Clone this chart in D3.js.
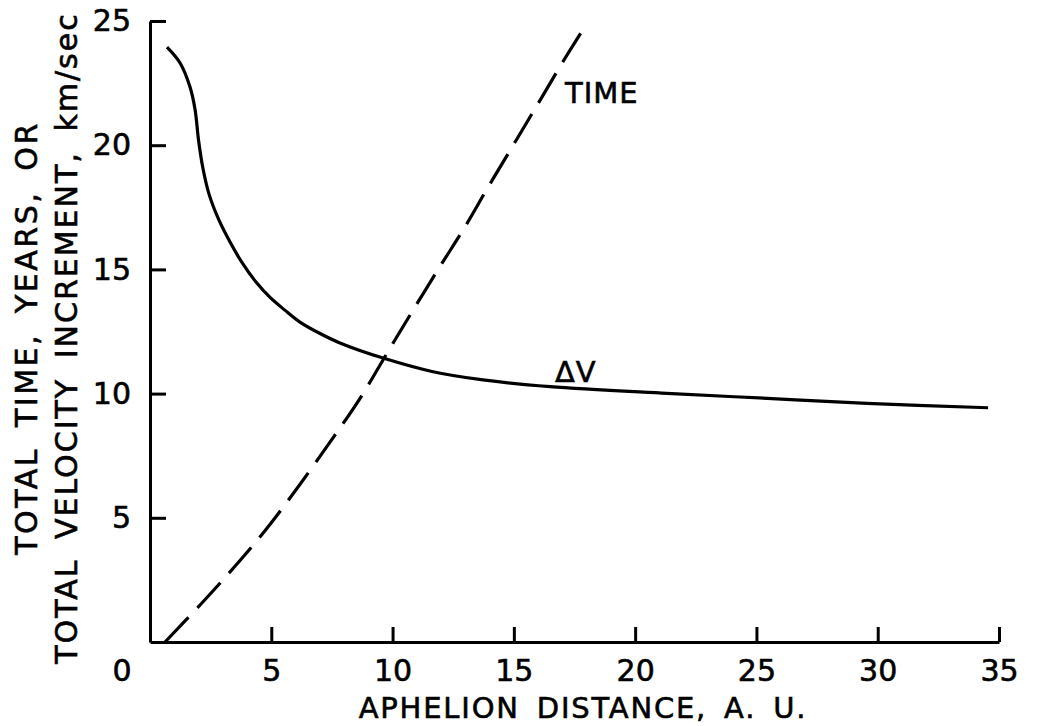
<!DOCTYPE html>
<html>
<head>
<meta charset="utf-8">
<script src="https://cdn.jsdelivr.net/npm/d3@7"></script>
<style>
  body { margin: 0; background: #fff; }
  text { font-family: "DejaVu Sans", sans-serif; fill: #000; stroke: #000; stroke-width: 0.6px; }
</style>
</head>
<body>
<div id="chart"></div>
<script>
// delta-V curve (AU, km/sec)
const dvDist = [0.7, 1.24, 1.65, 1.86, 2.0, 2.18, 2.43, 2.84, 3.3, 3.79, 4.37, 4.95, 5.57, 6.18, 7.01, 7.83, 9.61, 11.67, 13.73, 16.49, 21.31, 25.44, 29.56, 34.55];
const dvKms  = [23.95, 23.31, 22.34, 21.42, 20.21, 19.08, 18.04, 16.99, 16.1, 15.28, 14.49, 13.87, 13.35, 12.88, 12.42, 12.04, 11.43, 10.88, 10.55, 10.28, 10.01, 9.81, 9.61, 9.43];

// total time curve (AU, years)
const timeDist  = [0.62, 2.13, 3.43, 4.74, 6.11, 7.53, 8.66, 9.89, 10.85, 11.95, 12.92, 13.95, 14.98, 15.94, 17.11, 17.86];
const timeYears = [0, 1.56, 2.97, 4.48, 6.25, 8.2, 9.81, 11.82, 13.37, 15.11, 16.61, 18.33, 20.01, 21.58, 23.5, 24.67];

const xTicks = [5, 10, 15, 20, 25, 30, 35];
const yTicks = [5, 10, 15, 20, 25];

var width = 1051, height = 726;

const svg = d3.select('#chart')
    .append('svg')
    .attr('width', width)
    .attr('height', height);

const xScale = d3.scaleLinear()
    .domain([0, 35])
    .range([150, 999]);

const yScale = d3.scaleLinear()
    .domain([0, 25])
    .range([642, 21]);

const xAxis = d3.axisBottom(xScale)
    .tickValues(xTicks)
    .tickFormat(d3.format('d'))
    .tickSizeInner(-15)
    .tickSizeOuter(0)
    .tickPadding(18);

const yAxis = d3.axisLeft(yScale)
    .tickValues(yTicks)
    .tickFormat(d3.format('d'))
    .tickSizeInner(-16)
    .tickSizeOuter(0)
    .tickPadding(19);

svg.append('g')
    .attr('class', 'x-axis')
    .attr('transform', `translate(0, ${yScale(0)})`)
    .call(xAxis);

svg.append('g')
    .attr('class', 'y-axis')
    .attr('transform', `translate(${xScale(0)}, 0)`)
    .call(yAxis);

svg.selectAll('.x-axis path, .x-axis line, .y-axis path, .y-axis line')
    .attr('stroke', '#000')
    .attr('stroke-width', 3);

svg.selectAll('.x-axis text, .y-axis text')
    .attr('font-size', 30)
    .attr('font-family', '"DejaVu Sans", sans-serif')
    .attr('fill', '#000');

// shared origin label
svg.append('text')
    .attr('x', 122)
    .attr('y', 681)
    .attr('text-anchor', 'middle')
    .attr('font-size', 30)
    .text('0');

const line = d3.line()
    .x(d => xScale(d[0]))
    .y(d => yScale(d[1]))
    .curve(d3.curveCatmullRom.alpha(0.5));

svg.append('path')
    .datum(d3.zip(dvDist, dvKms))
    .attr('fill', 'none')
    .attr('stroke', '#000')
    .attr('stroke-width', 3.2)
    .attr('d', line);

svg.append('path')
    .datum(d3.zip(timeDist, timeYears))
    .attr('fill', 'none')
    .attr('stroke', '#000')
    .attr('stroke-width', 3.2)
    .attr('stroke-dasharray', '34,13')
    .attr('d', line);

// curve labels
svg.append('text')
    .attr('x', 565)
    .attr('y', 103)
    .attr('font-size', 29)
    .attr('letter-spacing', 1)
    .text('TIME');

svg.append('text')
    .attr('x', 555)
    .attr('y', 382)
    .attr('font-size', 29)
    .attr('letter-spacing', 1)
    .text('\u0394V');

// axis titles
svg.append('text')
    .attr('x', 583)
    .attr('y', 718)
    .attr('text-anchor', 'middle')
    .attr('font-size', 29)
    .attr('letter-spacing', 1.8)
    .attr('word-spacing', 6)
    .text('APHELION DISTANCE, A. U.');

svg.append('text')
    .attr('transform', 'translate(37, 338) rotate(-90)')
    .attr('text-anchor', 'middle')
    .attr('font-size', 30)
    .attr('letter-spacing', 2.5)
    .attr('word-spacing', 8)
    .text('TOTAL TIME, YEARS, OR');

svg.append('text')
    .attr('transform', 'translate(77, 338) rotate(-90)')
    .attr('text-anchor', 'middle')
    .attr('font-size', 30)
    .attr('letter-spacing', 2)
    .attr('word-spacing', 8)
    .text('TOTAL VELOCITY INCREMENT, km/sec');
</script>
</body>
</html>
